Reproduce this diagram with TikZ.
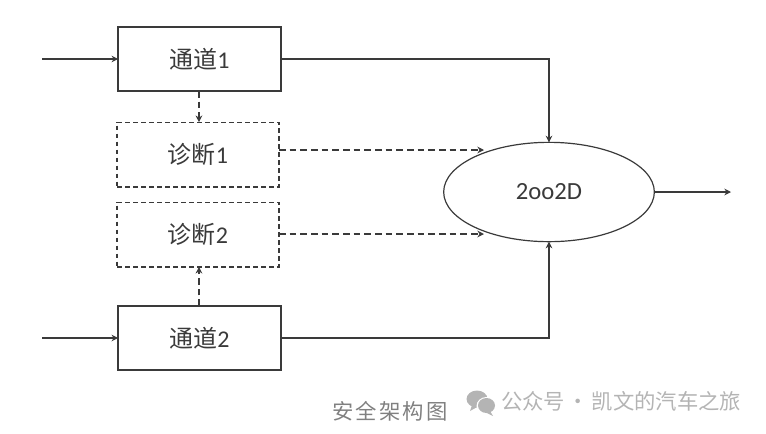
\documentclass[tikz,border=0pt]{standalone}
\usepackage{fontspec}
\setmainfont{Carlito}
\newfontfamily\cjk{Noto Sans CJK SC}
\usetikzlibrary{arrows.meta,shapes.geometric}
\definecolor{ink}{HTML}{3A3A3A}
\definecolor{linegrey}{HTML}{3A3A3A}
\definecolor{creditgrey}{HTML}{B4B4B4}
\definecolor{capgrey}{HTML}{808080}
\tikzset{
  every node/.style={inner sep=0pt,outer sep=0pt,text=ink},
  block/.style={draw=linegrey,line width=1.15pt,minimum width=122pt,minimum height=48pt,font=\fontsize{18}{22}\selectfont},
  diag/.style={draw=linegrey,line width=1pt,dash pattern=on 3.6pt off 2.4pt,minimum width=121.5pt,minimum height=48.5pt,font=\fontsize{18}{22}\selectfont},
  vote/.style={draw=linegrey,line width=0.9pt,ellipse,minimum width=158pt,minimum height=74.5pt,font=\fontsize{18.5}{22}\selectfont},
  flow/.style={draw=linegrey,line width=1pt,-{Stealth[length=5pt,width=5pt]}},
  dflow/.style={flow,dash pattern=on 5pt off 3pt},
  captext/.style={text=capgrey,font=\cjk\fontsize{16}{19}\selectfont},
  credittext/.style={text=creditgrey,font=\cjk\fontsize{16}{19}\selectfont}
}
\begin{document}
\begin{tikzpicture}[x=0.75pt,y=-0.75pt]
  \useasboundingbox (0,0) rectangle (766,433);

  % Channels and their diagnostics
  \node[block] (ch1) at (199.5,59) {{\cjk 通道}1};
  \node[diag]  (dg1) at (198,154.5) {{\cjk 诊断}1};
  \node[diag]  (dg2) at (198,234.5) {{\cjk 诊断}2};
  \node[block] (ch2) at (199.5,338) {{\cjk 通道}2};

  % Voter
  \node[vote] (vot) at (549,192) {2oo2D};

  % Free line ends
  \coordinate (in1) at (42,59);
  \coordinate (in2) at (42,338);
  \coordinate (out) at (731,192);
  \coordinate (dg1s) at (279,150);
  \coordinate (dg2s) at (279,234);
  \coordinate (vot1) at (484,150);
  \coordinate (vot2) at (484,234);
  \coordinate (ch1d) at ([xshift=-0.4pt]ch1.south);
  \coordinate (ch2u) at ([xshift=-0.4pt]ch2.north);

  % Signal paths
  \draw[flow] (in1) -- (ch1.west);
  \draw[flow] (in2) -- (ch2.west);
  \draw[flow] (ch1.east) -| (vot.north);
  \draw[flow] (ch2.east) -| (vot.south);
  \draw[flow] (vot.east) -- (out);

  % Diagnostic paths
  \draw[dflow] (ch1d) -- (ch1d |- dg1.north);
  \draw[dflow] (ch2u) -- (ch2u |- dg2.south);
  \draw[dflow] (dg1s) -- (vot1);
  \draw[dflow] (dg2s) -- (vot2);

  % Caption and credit line
  \node[captext,anchor=base] (cap) at (390,419) {安\hspace{1.6pt}全\hspace{1.6pt}架\hspace{1.6pt}构\hspace{1.6pt}图};
  \fill[creditgrey] (477,399) ellipse (10.5 and 8.5);
  \fill[creditgrey] (472,405) -- (470,411) -- (479,406) -- cycle;
  \fill[white] (486.5,406) ellipse (10 and 9);
  \fill[creditgrey] (486.5,405.5) ellipse (8.5 and 7.5);
  \fill[creditgrey] (490,411) -- (493,416) -- (485,412) -- cycle;
  \node[credittext,anchor=base west] (credit) at (501,409) {公众号\hspace{2pt}·\hspace{2pt}凯文的汽车之旅};
\end{tikzpicture}
\end{document}
